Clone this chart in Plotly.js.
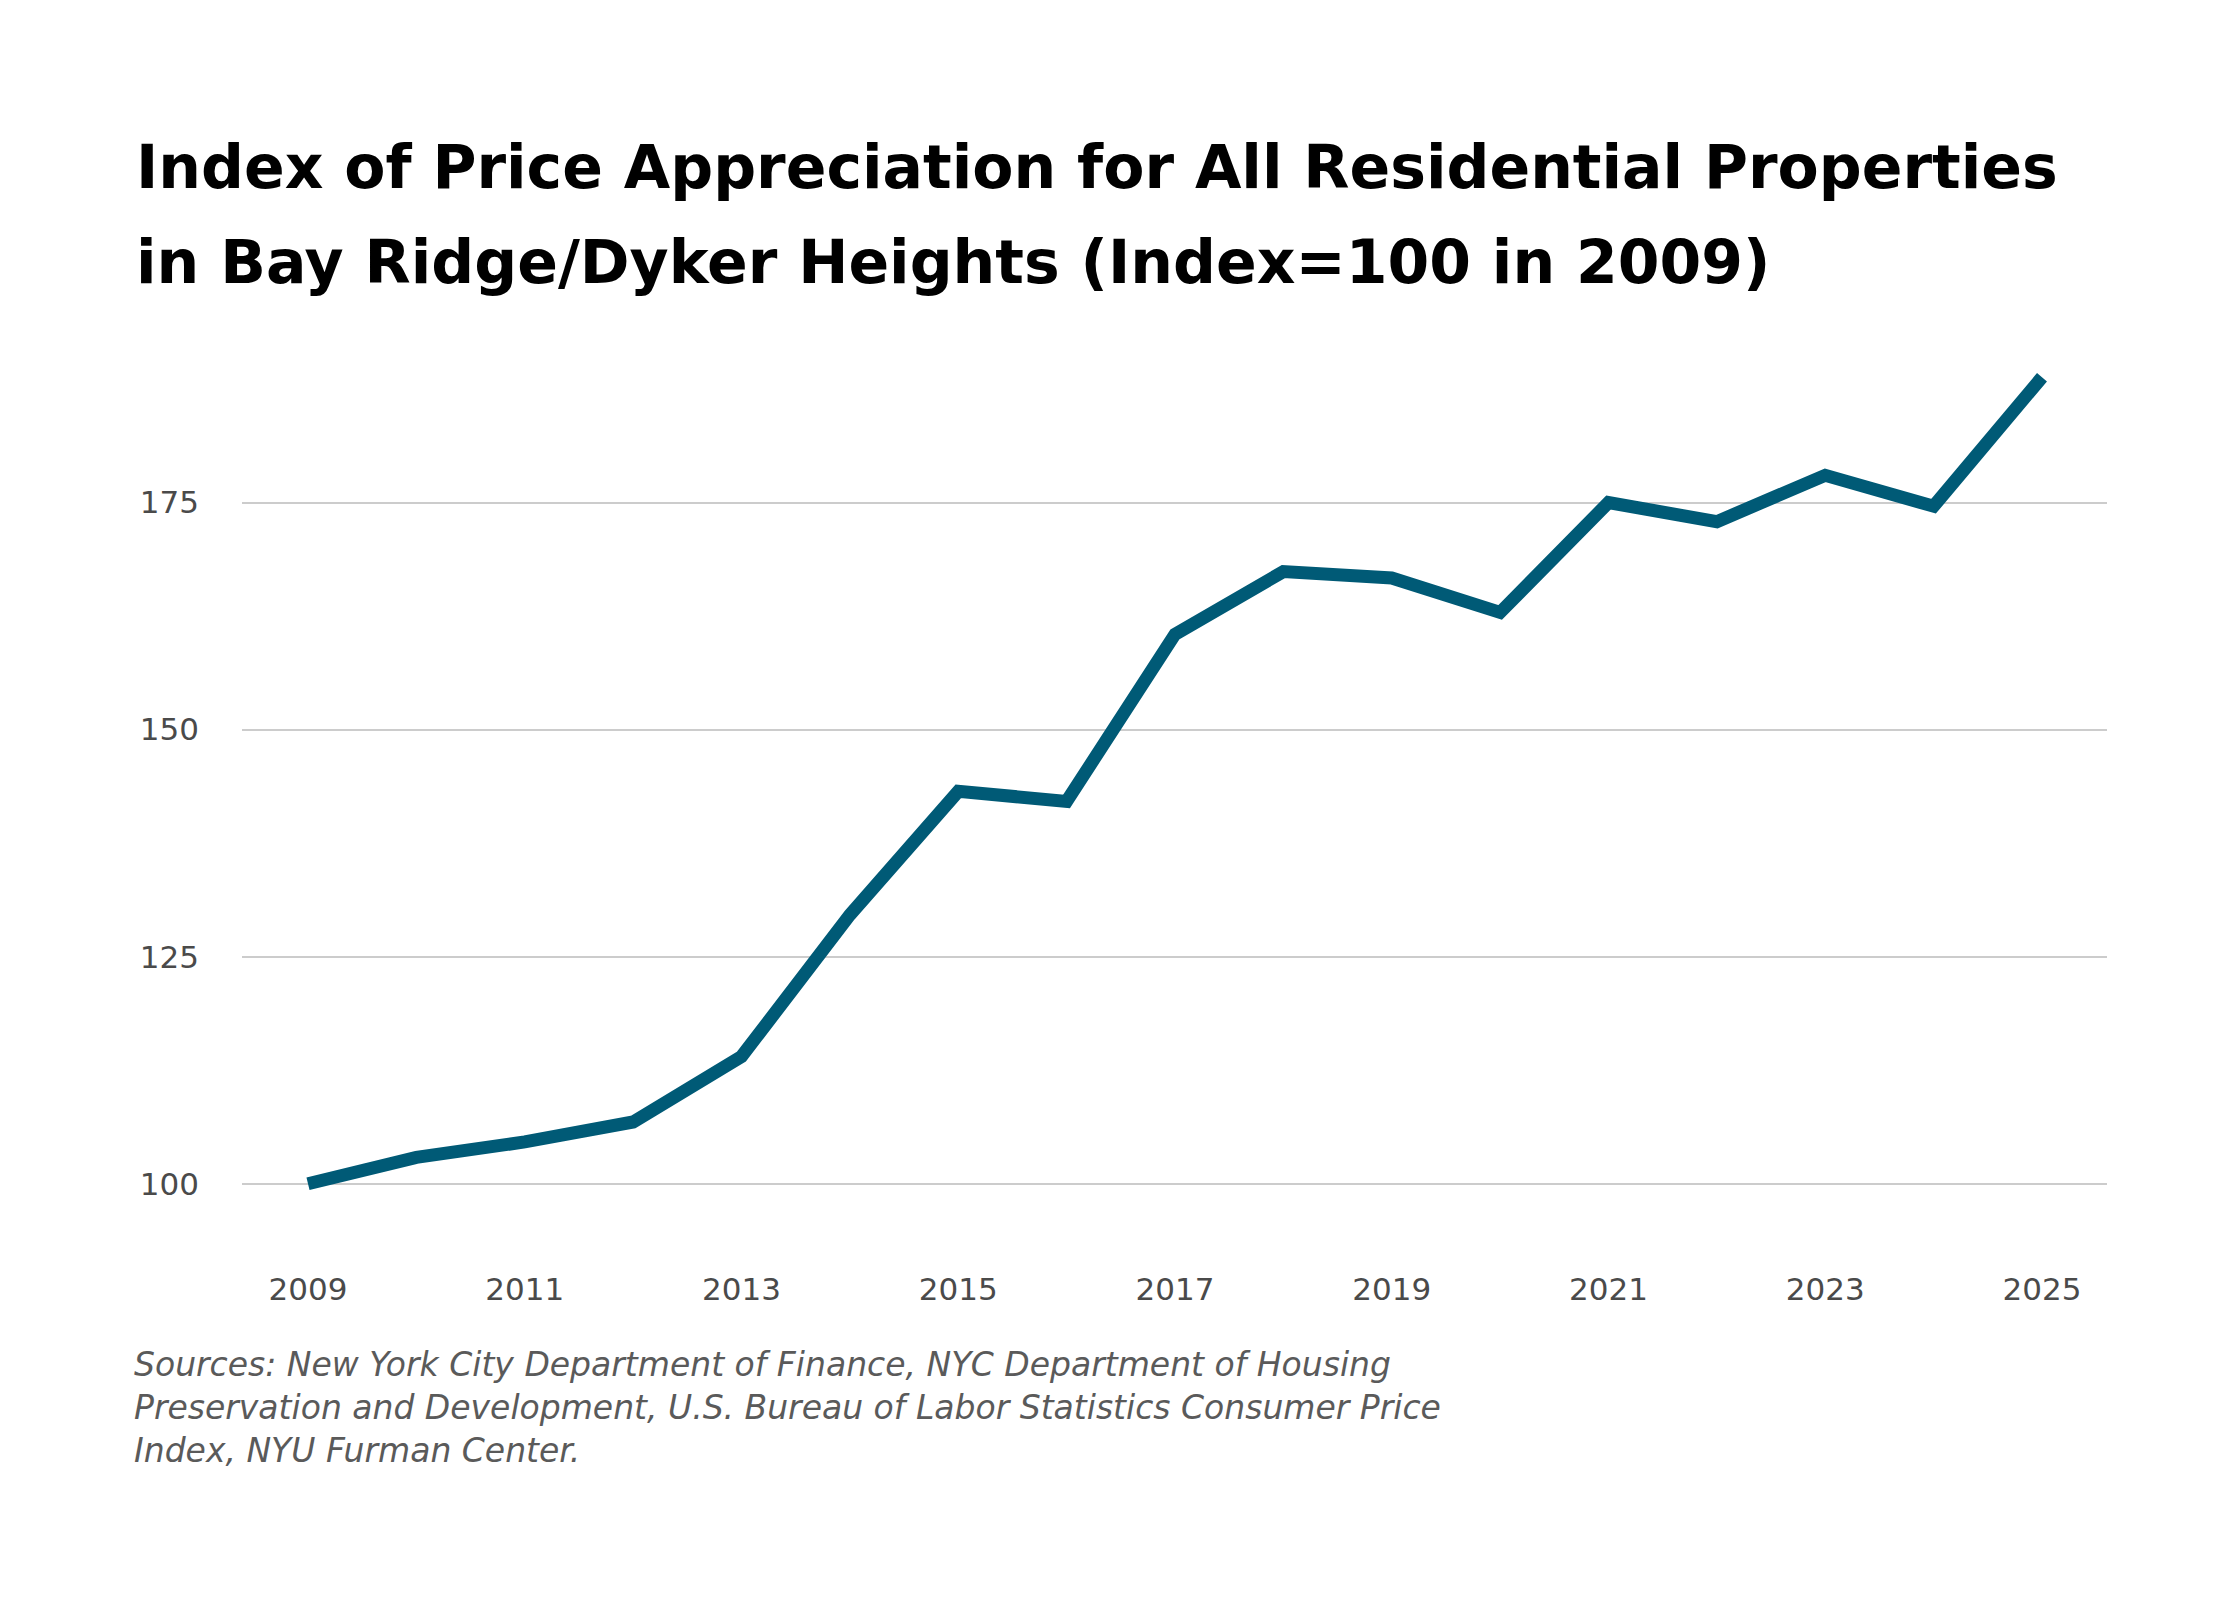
<!DOCTYPE html>
<html>
<head>
<meta charset="utf-8">
<script src="https://cdn.plot.ly/plotly-3.0.1.min.js"></script>
<style>
  html, body { margin: 0; padding: 0; background: #ffffff; }
  #chart { width: 2240px; height: 1600px; }
</style>
</head>
<body>
<div id="chart"></div>
<script>
// index values, 2009 = 100
const years = [2009, 2010, 2011, 2012, 2013, 2014, 2015, 2016, 2017,
               2018, 2019, 2020, 2021, 2022, 2023, 2024, 2025];
const index_values = [100.0, 102.9, 104.6, 106.8, 114.0, 129.6, 143.2, 142.1, 160.5,
                      167.4, 166.7, 162.9, 175.0, 172.9, 178.0, 174.6, 188.8];

const x_ticks = [2009, 2011, 2013, 2015, 2017, 2019, 2021, 2023, 2025];
const y_ticks = [100, 125, 150, 175];

const title_lines = [
    'Index of Price Appreciation for All Residential Properties',
    'in Bay Ridge/Dyker Heights (Index=100 in 2009)'
];
const source_note = 'Sources: New York City Department of Finance, NYC Department of Housing<br>' +
                    'Preservation and Development, U.S. Bureau of Labor Statistics Consumer Price<br>' +
                    'Index, NYU Furman Center.';

///////////////////////////////////////////////////////////////////////////////
const W = 2240, H = 1600;
const M = {l: 242, r: 133, t: 360, b: 340};
const plot_w = W - M.l - M.r;
const plot_h = H - M.t - M.b;

// pixel -> paper coords, for the text blocks outside the plot
function px(x) { return (x - M.l) / plot_w; }
function py(y) { return (H - M.b - y) / plot_h; }

let trace = {
    x: years,
    y: index_values,
    type: 'scatter',
    mode: 'lines',
    line: {color: '#005a76', width: 13},
    hoverinfo: 'x+y',
};

let tick_font = {family: 'DejaVu Sans, sans-serif', size: 31, color: '#4a4a4a'};
let title_font = {family: 'DejaVu Sans, sans-serif', size: 60, color: '#000000'};

let layout = {
    width: W,
    height: H,
    margin: M,
    paper_bgcolor: '#ffffff',
    plot_bgcolor: '#ffffff',
    showlegend: false,
    font: {family: 'DejaVu Sans, sans-serif', color: '#4a4a4a'},
    xaxis: {
        range: [2008.391, 2025.6],
        tickvals: x_ticks,
        ticktext: x_ticks.map(String),
        showgrid: false,
        zeroline: false,
        showline: false,
        ticks: '',
        ticklabelstandoff: 8,
        tickfont: tick_font,
    },
    yaxis: {
        range: [91.6, 190.7],
        tickvals: y_ticks,
        showgrid: true,
        gridcolor: '#cccccc',
        gridwidth: 2,
        zeroline: false,
        showline: false,
        ticks: '',
        ticklabelstandoff: 42,
        tickfont: tick_font,
    },
    annotations: [
        {
            text: '<b>' + title_lines[0] + '</b>',
            xref: 'paper', yref: 'paper', x: px(134), y: py(167),
            xanchor: 'left', yanchor: 'middle', showarrow: false,
            font: title_font,
        },
        {
            text: '<b>' + title_lines[1] + '</b>',
            xref: 'paper', yref: 'paper', x: px(134), y: py(262),
            xanchor: 'left', yanchor: 'middle', showarrow: false,
            font: title_font,
        },
        {
            text: source_note,
            xref: 'paper', yref: 'paper', x: px(132), y: py(1407),
            xanchor: 'left', yanchor: 'middle', align: 'left', showarrow: false,
            font: {family: 'DejaVu Sans, sans-serif', size: 33, color: '#5a5a5a', style: 'italic', weight: 300},
        },
    ],
};

Plotly.newPlot('chart', [trace], layout, {displayModeBar: false, staticPlot: true});
</script>
</body>
</html>
